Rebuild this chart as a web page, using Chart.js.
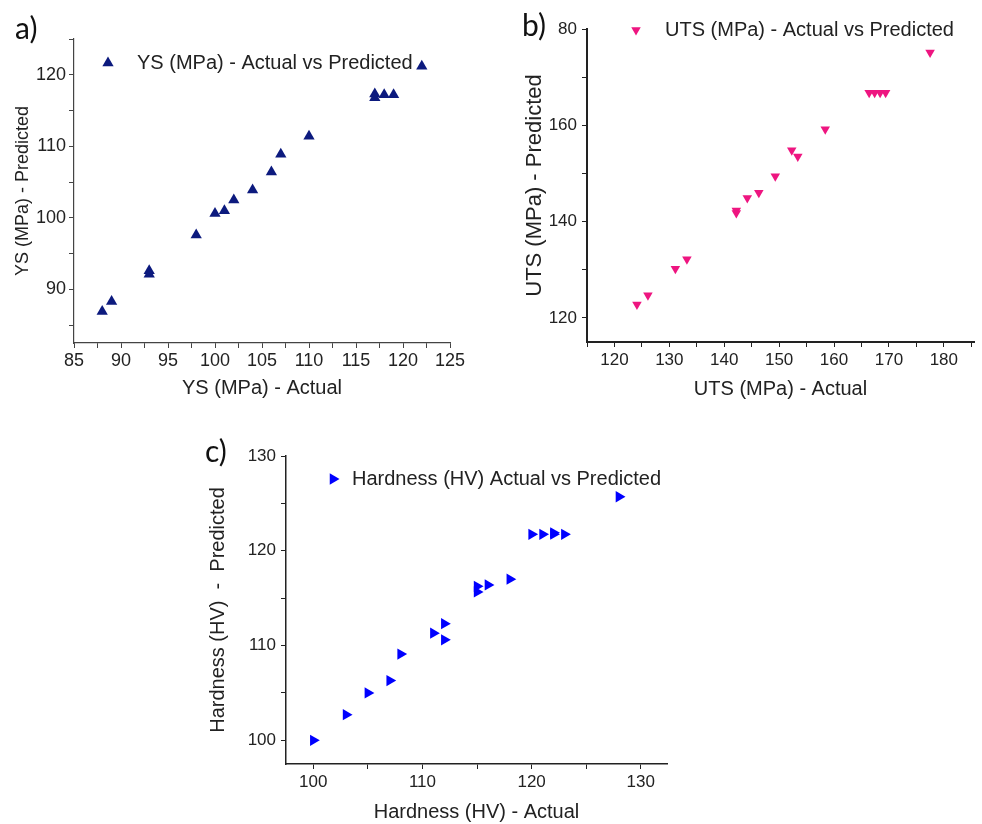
<!DOCTYPE html>
<html>
<head>
<meta charset="utf-8">
<script src="https://cdn.jsdelivr.net/npm/chart.js@4"></script>
<style>
  body { margin: 0; background: #fff; }
  #page { position: relative; width: 982px; height: 824px; overflow: hidden; }
  canvas { position: absolute; }
  .tag { position: absolute; font-family: Lato, 'Liberation Sans', sans-serif; font-size: 30px; line-height: 1; color: #111; }
</style>
</head>
<body>
<div id="page">
  <canvas id="chartA" width="480" height="410" style="left:0;top:0"></canvas>
  <canvas id="chartB" width="492" height="410" style="left:490px;top:0"></canvas>
  <canvas id="chartC" width="500" height="404" style="left:190px;top:420px"></canvas>
  <div class="tag" style="left:15px;top:12px">a)</div>
  <div class="tag" style="left:522px;top:9px">b)</div>
  <div class="tag" style="left:205px;top:435px">c)</div>
</div>
<script>
// a) yield strength
const ysActual = [88, 89, 93, 93, 98, 100, 101, 102, 104, 106, 107, 110, 117, 117, 118, 119, 122]
const ysPredicted = [86.9, 88.3, 92.6, 92.1, 97.6, 100.6, 101.0, 102.5, 103.9, 106.4, 108.9, 111.4, 117.3, 116.8, 117.2, 117.2, 121.2]
const xTicksA = [85, 90, 95, 100, 105, 110, 115, 120, 125]
const yTicksA = [90, 100, 110, 120]

// b) ultimate tensile strength
const utsActual = [124.1, 126.1, 131.1, 133.2, 142.2, 142.2, 144.2, 146.3, 149.3, 152.3, 153.4, 158.4, 166.4, 167.4, 168.4, 169.4, 177.5]
const utsPredicted = [122.8, 124.7, 130.2, 132.2, 142.3, 141.8, 144.9, 146.0, 149.4, 154.8, 153.5, 159.2, 166.75, 166.75, 166.75, 166.75, 175.1]
const xTicksB = [120, 130, 140, 150, 160, 170, 180]
const yTicksB = [120, 140, 160, 180]
const yTickTextB = ['120', '140', '160', '80']

// c) hardness
const hvActual = [100, 103, 105, 107, 108, 111, 112, 112, 115, 115, 116, 118, 120, 121, 122, 122, 123, 128]
const hvPredicted = [100, 102.7, 105.0, 106.3, 109.1, 111.3, 112.3, 110.6, 116.25, 115.65, 116.4, 117.0, 121.74, 121.74, 121.9, 121.75, 121.74, 125.7]
const xTicksC = [100, 110, 120, 130]
const yTicksC = [100, 110, 120, 130]

const FONT = "'Liberation Sans', Arial, sans-serif"
const TEXT = '#222'

// legend drawn inside the plot, like the original figure
const insideLegend = {
  id: 'insideLegend',
  afterDatasetsDraw(chart, args, opts) {
    const ds = chart.data.datasets[0]
    const ctx = chart.ctx
    ctx.save()
    ctx.fillStyle = ds.backgroundColor
    ctx.strokeStyle = ds.borderColor
    Chart.helpers.drawPoint(ctx, {
      pointStyle: ds.pointStyle,
      rotation: ds.rotation,
      radius: ds.pointRadius,
      borderWidth: 0,
    }, opts.x, opts.y)
    ctx.fillStyle = TEXT
    ctx.font = '20px ' + FONT
    ctx.textBaseline = 'middle'
    ctx.fillText(ds.label, opts.textX, opts.y)
    ctx.restore()
  },
}

function labelFrom(vals, texts) {
  return (v) => {
    const i = vals.indexOf(v)
    if (i < 0) return ''
    return texts ? texts[i] : String(v)
  }
}

function makePanel(id, p) {
  const axisCommon = (a) => ({
    type: 'linear',
    min: a.min,
    max: a.max,
    ticks: {
      stepSize: a.step,
      autoSkip: false,
      maxRotation: 0,
      includeBounds: false,
      padding: a.tickPad,
      color: TEXT,
      font: { size: p.tickSize, family: FONT },
      callback: a.label,
    },
    grid: { drawOnChartArea: false, tickLength: p.tickLen, tickColor: p.axisColor, tickWidth: 1 },
    border: { color: p.axisColor, width: p.axisWidth },
    title: {
      display: true,
      text: a.title,
      color: TEXT,
      font: { size: a.titleSize, family: FONT },
      padding: a.titlePad,
    },
  })
  const xs = axisCommon(p.x)
  xs.afterFit = (s) => { s.height = p.x.box }
  const ys = axisCommon(p.y)
  ys.afterFit = (s) => { s.width = p.y.box }
  return new Chart(document.getElementById(id), {
    type: 'scatter',
    data: {
      datasets: [{
        label: p.label,
        data: p.xv.map((x, i) => ({ x, y: p.yv[i] })),
        pointStyle: 'triangle',
        rotation: p.rotation,
        pointRadius: p.radius,
        pointHoverRadius: p.radius,
        backgroundColor: p.color,
        borderColor: p.color,
        borderWidth: 0,
      }],
    },
    options: {
      responsive: false,
      animation: false,
      layout: { padding: p.padding },
      plugins: { legend: { display: false }, tooltip: { enabled: false }, insideLegend: p.legend },
      scales: { x: xs, y: ys },
    },
    plugins: [insideLegend],
  })
}

makePanel('chartA', {
  label: 'YS (MPa) - Actual vs Predicted',
  xv: ysActual, yv: ysPredicted,
  rotation: 0, radius: 6.5, color: '#0c1a7e',
  tickSize: 18, tickLen: 5, axisColor: '#444', axisWidth: 1.2,
  padding: { left: 0, right: 30, top: 39, bottom: 0 },
  legend: { x: 108, y: 63, textX: 137 },
  x: { min: 85, max: 125, step: 2.5, label: labelFrom(xTicksA), tickPad: 2, box: 67,
       title: 'YS (MPa) - Actual', titleSize: 20, titlePad: { top: 0, bottom: 10 } },
  y: { min: 82.5, max: 125, step: 5, label: labelFrom(yTicksA), tickPad: 3, box: 74,
       title: 'YS (MPa) - Predicted', titleSize: 18, titlePad: { top: 12, bottom: 0 } },
})

makePanel('chartB', {
  label: 'UTS (MPa) - Actual vs Predicted',
  xv: utsActual, yv: utsPredicted,
  rotation: 180, radius: 5.5, color: '#ee1580',
  tickSize: 17, tickLen: 5, axisColor: '#222', axisWidth: 2,
  padding: { left: 0, right: 8, top: 29, bottom: 0 },
  legend: { x: 146, y: 30, textX: 175 },
  x: { min: 115, max: 185.5, step: 5, label: labelFrom(xTicksB), tickPad: 3, box: 68,
       title: 'UTS (MPa) - Actual', titleSize: 20, titlePad: { top: 0, bottom: 9 } },
  y: { min: 115, max: 180, step: 10, label: labelFrom(yTicksB, yTickTextB), tickPad: 5, box: 97,
       title: 'UTS (MPa) - Predicted', titleSize: 22, titlePad: { top: 32, bottom: 0 } },
})

makePanel('chartC', {
  label: 'Hardness (HV) Actual vs Predicted',
  xv: hvActual, yv: hvPredicted,
  rotation: 90, radius: 6.5, color: '#0000ff',
  tickSize: 17, tickLen: 5, axisColor: '#222', axisWidth: 1.5,
  padding: { left: 0, right: 23, top: 36, bottom: 0 },
  legend: { x: 143, y: 59, textX: 162 },
  x: { min: 97.5, max: 132.4, step: 5, label: labelFrom(xTicksC), tickPad: 3, box: 60,
       title: 'Hardness (HV) - Actual', titleSize: 20, titlePad: { top: 0, bottom: 0 } },
  y: { min: 97.5, max: 130, step: 5, label: labelFrom(yTicksC), tickPad: 5, box: 96,
       title: 'Hardness (HV)  -  Predicted', titleSize: 20, titlePad: { top: 16, bottom: 0 } },
})
</script>
</body>
</html>
